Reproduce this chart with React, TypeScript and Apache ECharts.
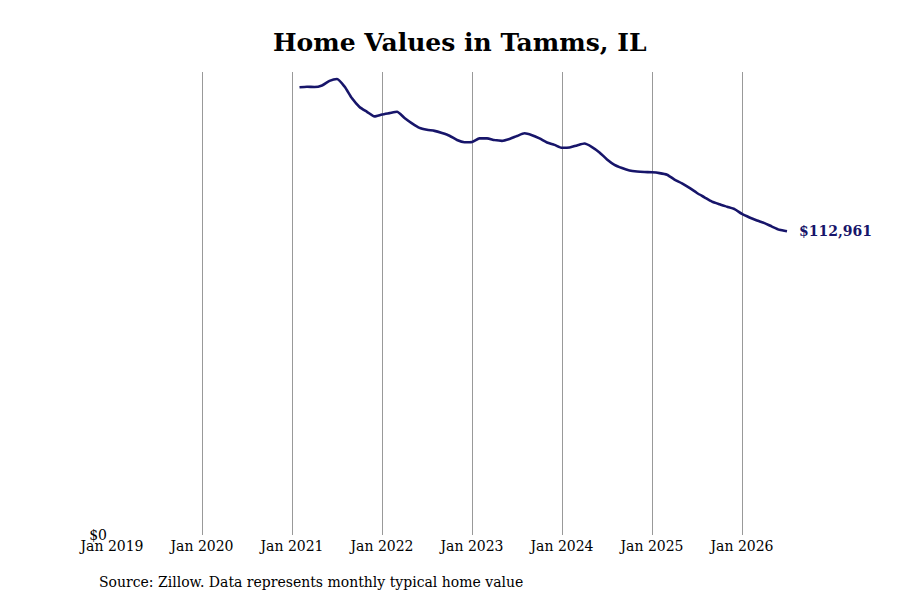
import React, { useEffect, useRef } from "react";
import * as echarts from "echarts";

const startYear = 2019;
const firstMonthIndex = 25; // Feb 2021, counted in months from Jan 2019
const homeValues = [
  166500, 166700, 166600, 167200, 168900, 169600, 166800, 162400, 159200, 157400, 155700,
  156400, 156900, 157400, 155100, 153100, 151400, 150700, 150300, 149500, 148500, 146900, 146100,
  146200, 147500, 147500, 146900, 146600, 147300, 148400, 149400, 148700, 147500, 146000, 145100,
  144000, 144100, 144900, 145600, 144300, 142300, 139700, 137700, 136500, 135600, 135200, 135000,
  134900, 134600, 134000, 132200, 130800, 129100, 127200, 125600, 124000, 123000, 122100, 121200,
  119400, 118100, 117000, 116000, 114700, 113500, 112961,
];
const xTickYears = ["2019", "2020", "2021", "2022", "2023", "2024", "2025", "2026"];
const yMax = 172200;

const FONT = "DejaVu Serif";
const LINE = "#17156a";

export default function App() {
  const ref = useRef<HTMLDivElement>(null);
  useEffect(() => {
    if (!ref.current) return;
    const chart = echarts.init(ref.current, null, { renderer: "svg" });
    const data = homeValues.map((v, i) => [firstMonthIndex + i, v]);
    const lastX = firstMonthIndex + homeValues.length - 1;
    chart.setOption({
      animation: false,
      backgroundColor: "#ffffff",
      title: {
        text: "Home Values in Tamms, IL",
        left: 268,
        top: 25,
        textStyle: { fontFamily: FONT, fontWeight: "bold", fontSize: 25, color: "#000" },
      },
      graphic: [
        {
          type: "text",
          left: 99,
          top: 575,
          style: {
            text: "Source: Zillow. Data represents monthly typical home value",
            fontFamily: FONT,
            fontSize: 14,
            fill: "#000",
          },
        },
      ],
      grid: { left: 112, right: 900 - 787, top: 72, bottom: 65, containLabel: false },
      xAxis: {
        type: "value",
        min: 0,
        max: lastX,
        interval: 12,
        axisLine: { show: false },
        axisTick: { show: false },
        splitLine: {
          show: true,
          showMinLine: false,
          showMaxLine: false,
          lineStyle: { color: "#999", width: 1 },
        },
        axisLabel: {
          fontFamily: FONT,
          fontSize: 14,
          color: "#000",
          margin: 4,
          showMaxLabel: false,
          formatter: (v: number) => {
            const y = xTickYears[Math.round(v / 12)];
            return y && v % 12 === 0 ? "Jan " + y : "";
          },
        },
      },
      yAxis: {
        type: "value",
        min: 0,
        max: yMax,
        interval: yMax,
        axisLine: { show: false },
        axisTick: { show: false },
        splitLine: { show: false },
        axisLabel: {
          fontFamily: FONT,
          fontSize: 14,
          color: "#000",
          margin: 5,
          formatter: (v: number) => (v === 0 ? "$0" : ""),
        },
      },
      series: [
        {
          type: "line",
          data,
          showSymbol: false,
          smooth: 0.2,
          lineStyle: { color: LINE, width: 2.6 },
          itemStyle: { color: LINE },
          endLabel: {
            show: true,
            distance: 12,
            fontFamily: FONT,
            fontWeight: "bold",
            fontSize: 14,
            color: LINE,
            formatter: (p: any) => "$" + p.value[1].toLocaleString("en-US"),
          },
        },
      ],
    });
    return () => chart.dispose();
  }, []);
  return <div ref={ref} style={{ width: 900, height: 600, margin: -8 }} />;
}
